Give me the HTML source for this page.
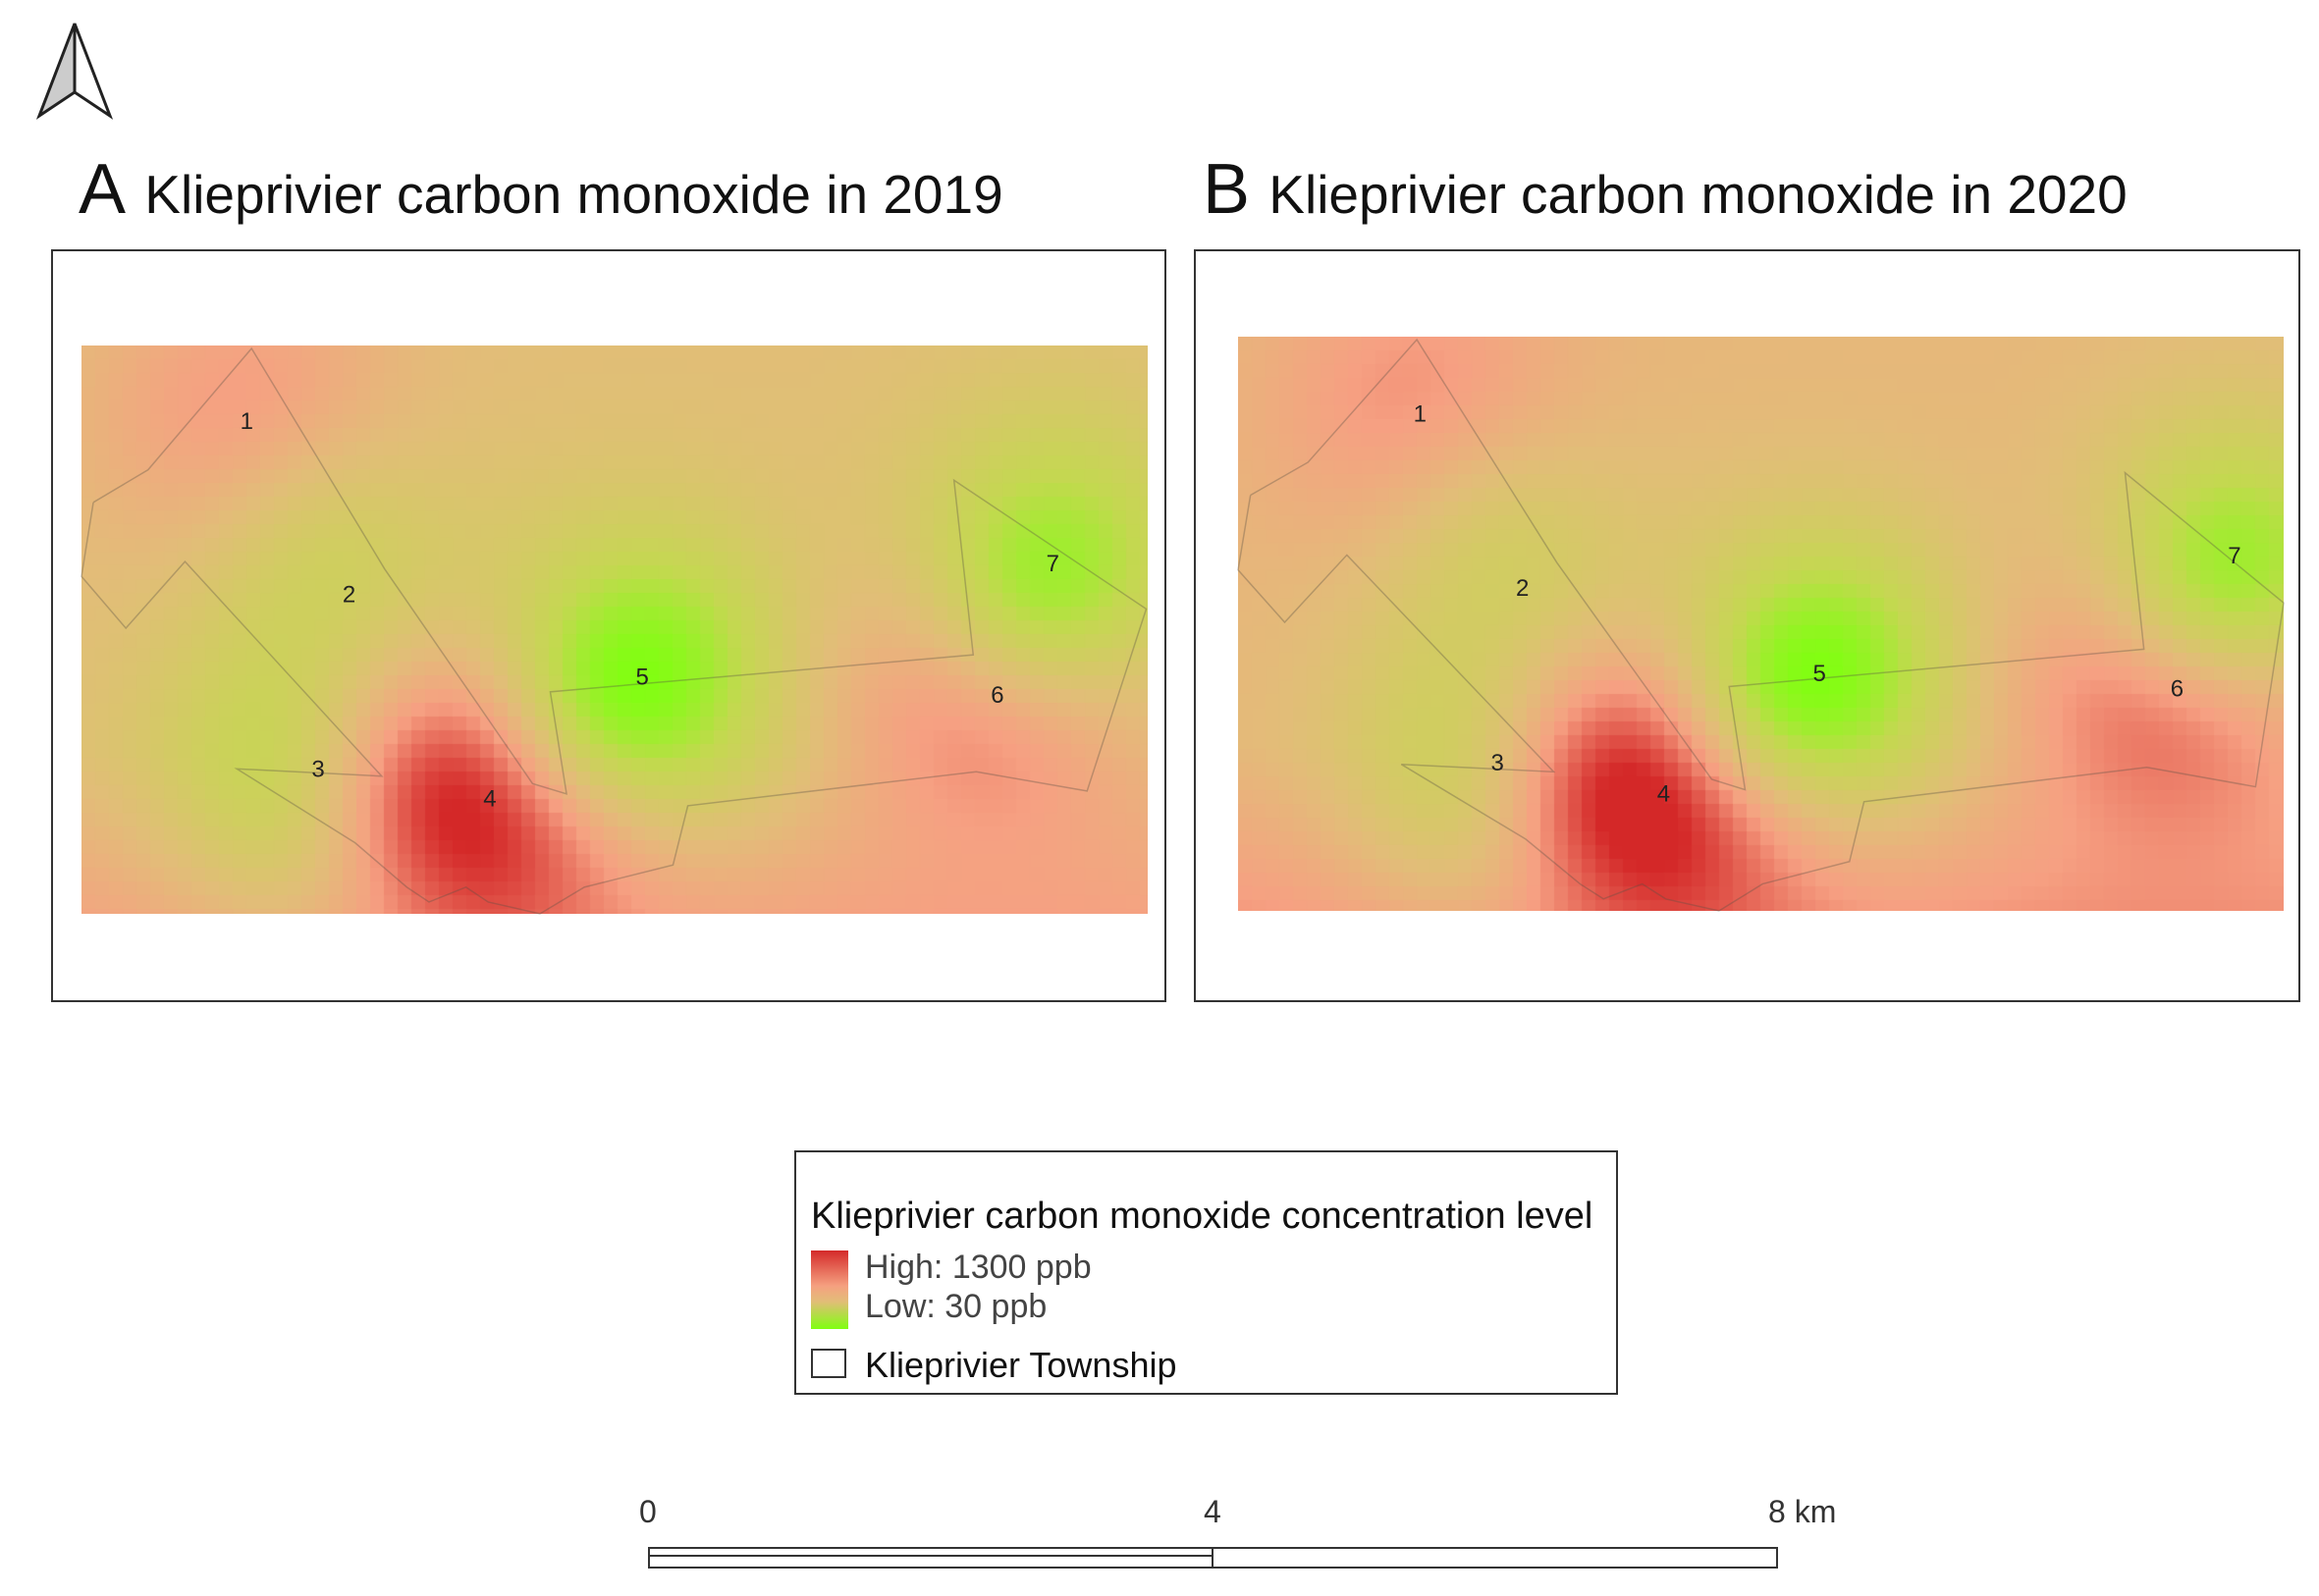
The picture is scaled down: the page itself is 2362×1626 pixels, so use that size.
<!DOCTYPE html>
<html><head><meta charset="utf-8">
<style>
html,body{margin:0;padding:0;background:#fff;}
body{width:2362px;height:1626px;position:relative;overflow:hidden;font-family:"Liberation Sans","DejaVu Sans",sans-serif;}
.frame{position:absolute;border:2px solid #333;box-sizing:border-box;background:#fff;}
.title{position:absolute;font-size:55px;color:#111;white-space:nowrap;}
.title b{font-weight:normal;font-size:72px;margin-right:4px;}
canvas{position:absolute;}
.lbl{position:absolute;font-size:22px;color:#333;}
</style></head><body>
<svg style="position:absolute;left:34px;top:20px" width="84" height="104" viewBox="0 0 84 104">
<polygon points="42,4 6,98 42,74" fill="#ccc" stroke="#222" stroke-width="3"/>
<polygon points="42,4 78,98 42,74" fill="#fff" stroke="#222" stroke-width="3"/>
</svg>
<div class="title" style="left:80px;top:152px"><b>A</b> Klieprivier carbon monoxide in 2019</div>
<div class="title" style="left:1225px;top:152px"><b>B</b> Klieprivier carbon monoxide in 2020</div>
<div class="frame" style="left:52px;top:254px;width:1136px;height:767px"></div>
<div class="frame" style="left:1216px;top:254px;width:1127px;height:767px"></div>
<canvas id="ca" style="left:83px;top:352px" width="1086" height="579"></canvas>
<canvas id="cb" style="left:1261px;top:343px" width="1065" height="585"></canvas>
<svg id="ov" style="position:absolute;left:0;top:0" width="2362" height="1626"></svg>

<div class="frame" style="left:809px;top:1172px;width:839px;height:249px">
<div style="position:absolute;left:15px;top:44px;font-size:38px;color:#111;white-space:nowrap">Klieprivier carbon monoxide concentration level</div>
<div style="position:absolute;left:15px;top:100px;width:38px;height:80px;background:linear-gradient(#d42a2a,#f5a080 45%,#e2bd78 65%,#80ff10)"></div>
<div style="position:absolute;left:70px;top:98px;font-size:34px;color:#444">High: 1300 ppb</div>
<div style="position:absolute;left:70px;top:138px;font-size:34px;color:#444">Low: 30 ppb</div>
<div style="position:absolute;left:15px;top:200px;width:36px;height:30px;border:2px solid #333;box-sizing:border-box"></div>
<div style="position:absolute;left:70px;top:196px;font-size:36px;color:#111">Klieprivier Township</div>
</div>

<div style="position:absolute;left:660px;top:1576px;width:1151px;height:22px;border:2px solid #333;box-sizing:border-box"></div>
<div style="position:absolute;left:660px;top:1576px;width:576px;height:10px;border-bottom:2px solid #333;border-right:2px solid #333;box-sizing:border-box"></div>
<div style="position:absolute;left:1234px;top:1576px;width:2px;height:22px;background:#333"></div>
<div class="lbl" style="left:651px;top:1522px;font-size:32px">0</div>
<div class="lbl" style="left:1226px;top:1522px;font-size:32px">4</div>
<div class="lbl" style="left:1801px;top:1522px;font-size:32px;white-space:nowrap">8 km</div>

<script>
// station data
const stationIds=[1,2,3,4,5,6,7];
const stationXA=[0.155,0.251,0.222,0.383,0.526,0.859,0.911];
const stationYA=[0.133,0.438,0.745,0.797,0.583,0.615,0.383];
const stationXB=[0.174,0.272,0.248,0.407,0.556,0.898,0.953];
const stationYB=[0.134,0.438,0.742,0.796,0.586,0.613,0.381];
const values2019=[950,420,200,1500,30,1150,150];
const values2020=[980,450,280,1550,30,1250,160];
const base2019=640, base2020=700;

const rampStops=[30,300,650,900,1300];
const rampCols=[[128,255,16],[196,216,80],[226,189,120],[246,160,130],[212,40,40]];
function color(v){
  v=Math.max(30,Math.min(1300,v));
  for(let i=0;i<rampStops.length-1;i++){
    if(v<=rampStops[i+1]){const t=(v-rampStops[i])/(rampStops[i+1]-rampStops[i]);
      return rampCols[i].map((c,k)=>Math.round(c+(rampCols[i+1][k]-c)*t));}
  }
  return rampCols[rampCols.length-1];
}
function draw(id,vals,base,sx,sy){
  const c=document.getElementById(id),ctx=c.getContext('2d');
  const W=c.width,H=c.height,cell=14,sig=0.14*W;
  for(let y=0;y<H;y+=cell)for(let x=0;x<W;x+=cell){
    let v=base+ (y/H>0.7? (y/H-0.7)*800:0);
    for(let i=0;i<vals.length;i++){
      const dx=x+cell/2-sx[i]*W,dy=y+cell/2-sy[i]*H;
      const w=Math.exp(-(dx*dx+dy*dy)/(sig*sig));
      v+= (vals[i]-v)*w;
    }
    const col=color(v);
    ctx.fillStyle='rgb('+col.join(',')+')';
    ctx.fillRect(x,y,cell,cell);
  }
}
draw('ca',values2019,base2019,stationXA,stationYA);
draw('cb',values2020,base2020,stationXB,stationYB);

// township outline (relative to heatmap, in reference 721x384 units)
const outline=[[8,106],[45,84],[115,2],[205,151],[305,296],[328,303],[317,234],[603,209],[590,91],[720,178],[680,301],[605,288],[410,311],[400,351],[340,366],[310,384],[275,376],[260,366],[235,376],[220,366],[185,336],[105,286],[203,291],[70,146],[30,191],[0,156],[8,106]];
const ns='http://www.w3.org/2000/svg';
const ov=document.getElementById('ov');
[[83,352,1086,579,stationXA,stationYA,0],[1261,343,1065,585,stationXB,stationYB,0.03]].forEach(([l,t,w,h,sx,sy,off])=>{
  const p=document.createElementNS(ns,'polyline');
  
  
  p.setAttribute('points',outline.map(q=>(l+Math.min(1,q[0]/721+off*Math.min(1,q[0]/300))*w)+','+(t+q[1]/384*h)).join(' '));
  p.setAttribute('fill','none');p.setAttribute('stroke','rgba(90,80,70,0.35)');p.setAttribute('stroke-width','1.5');
  ov.appendChild(p);
  for(let i=0;i<stationIds.length;i++){
    const tx=document.createElementNS(ns,'text');
    
    
    tx.setAttribute('x',l+sx[i]*w);tx.setAttribute('y',t+sy[i]*h+8);
    tx.setAttribute('font-size','24');tx.setAttribute('text-anchor','middle');
    tx.setAttribute('font-family','Liberation Sans, sans-serif');tx.setAttribute('fill','#222');
    tx.textContent=stationIds[i];ov.appendChild(tx);
  }
});
</script>
</body></html>
